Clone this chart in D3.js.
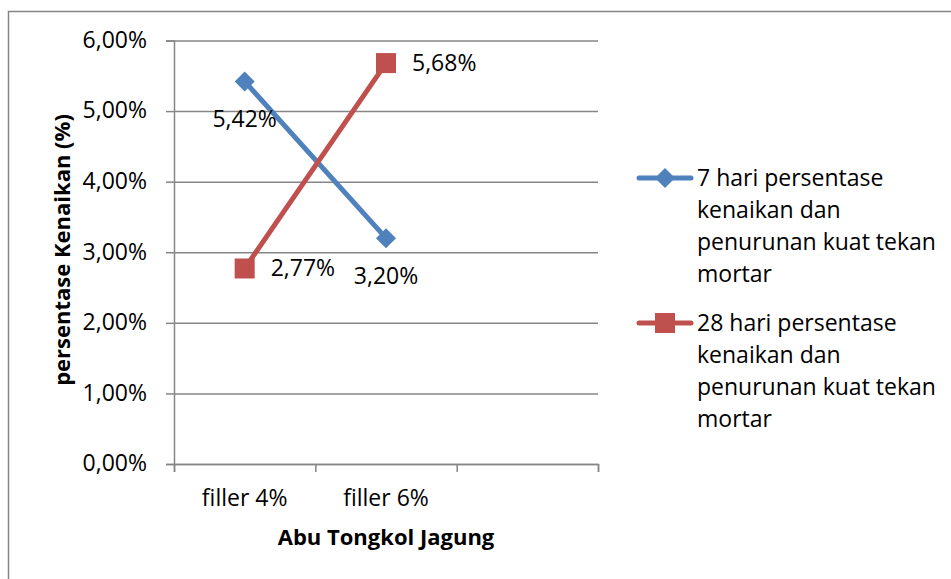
<!DOCTYPE html>
<html>
<head>
<meta charset="utf-8">
<script src="https://cdn.jsdelivr.net/npm/d3@7"></script>
<style>
  body { margin: 0; background: #fff; }
  svg text { font-family: "Open Sans", "Liberation Sans", sans-serif; fill: #000; }
</style>
</head>
<body>
<svg id="chart" width="951" height="579"></svg>
<script>
// data
const categories = ["filler 4%", "filler 6%", ""];
const hari7 = [5.42, 3.20];
const hari28 = [2.77, 5.68];
const yTicks = [0, 1, 2, 3, 4, 5, 6];
const seriesNames = [
  ["7 hari persentase", "kenaikan dan", "penurunan kuat tekan", "mortar"],
  ["28 hari persentase", "kenaikan dan", "penurunan kuat tekan", "mortar"]
];

const svg = d3.select("#chart");
const gridColor = "#868686";
const fontSize = 23;
const titleSize = 22;

// outer chart border (runs off right and bottom)
svg.append("rect")
  .attr("x", 8.5).attr("y", 11.5)
  .attr("width", 1000).attr("height", 1000)
  .attr("fill", "none").attr("stroke", gridColor).attr("stroke-width", 1.5);

const plotLeft = 174, plotRight = 598, plotTop = 40.5, plotBottom = 464;

const x = d3.scaleBand().domain(categories).range([plotLeft, plotRight]).padding(0);
const xIdx = d3.scaleLinear().domain([0, categories.length]).range([plotLeft, plotRight]);
const y = d3.scaleLinear().domain([0, 6]).range([plotBottom, plotTop]);
const cx = d => x(d) + x.bandwidth() / 2;

const fmt = d => d.toFixed(2).replace(".", ",") + "%";

// gridlines
svg.append("g")
  .attr("transform", `translate(${plotLeft},0)`)
  .call(d3.axisLeft(y).tickValues(yTicks).tickSize(-(plotRight - plotLeft)).tickFormat(""))
  .call(g => g.select(".domain").remove())
  .call(g => g.selectAll("line").attr("stroke", gridColor).attr("stroke-width", 1.5));

// y axis
const yAxis = svg.append("g")
  .attr("transform", `translate(${plotLeft},0)`)
  .call(d3.axisLeft(y).tickValues(yTicks).tickSize(8).tickPadding(19).tickFormat(d => fmt(d)));
yAxis.select(".domain").attr("stroke", gridColor).attr("stroke-width", 1.5);
yAxis.selectAll("line").attr("stroke", gridColor).attr("stroke-width", 1.5);
yAxis.selectAll("text").attr("font-size", fontSize).attr("dy", "0.3em");
yAxis.attr("font-family", null);

// x axis
const xAxis = svg.append("g")
  .attr("transform", `translate(0,${plotBottom})`)
  .call(d3.axisBottom(xIdx).tickValues(d3.range(categories.length + 1)).tickSize(8).tickFormat(""));
xAxis.select(".domain").attr("stroke", gridColor).attr("stroke-width", 1.5);
xAxis.selectAll("line").attr("stroke", gridColor).attr("stroke-width", 1.5);

svg.append("g").selectAll("text")
  .data(categories.filter(c => c !== ""))
  .join("text")
  .attr("x", d => cx(d))
  .attr("y", 506)
  .attr("text-anchor", "middle")
  .attr("font-size", fontSize)
  .text(d => d);

// axis titles
svg.append("text")
  .attr("x", 386).attr("y", 545)
  .attr("text-anchor", "middle")
  .attr("font-size", titleSize).attr("font-weight", "bold")
  .text("Abu Tongkol Jagung");

svg.append("text")
  .attr("transform", "translate(70,250) rotate(-90)")
  .attr("text-anchor", "middle")
  .attr("font-size", titleSize).attr("font-weight", "bold")
  .text("persentase Kenaikan (%)");

// series
const series = [
  { values: hari7, color: "#4F81BD", marker: "diamond", labelPos: "below" },
  { values: hari28, color: "#C0504D", marker: "square", labelPos: "right" }
];

const line = d3.line()
  .x((d, i) => cx(categories[i]))
  .y(d => y(d));

function drawMarker(g, type, color) {
  if (type === "diamond") {
    g.append("path").attr("d", "M0,-10L10,0L0,10L-10,0Z").attr("fill", color);
  } else {
    g.append("rect").attr("x", -10).attr("y", -10).attr("width", 20).attr("height", 20).attr("fill", color);
  }
}

series.forEach(s => {
  svg.append("path")
    .datum(s.values)
    .attr("d", line)
    .attr("fill", "none")
    .attr("stroke", s.color)
    .attr("stroke-width", 5)
    .attr("stroke-linecap", "round");

  s.values.forEach((v, i) => {
    const g = svg.append("g").attr("transform", `translate(${cx(categories[i])},${y(v)})`);
    drawMarker(g, s.marker, s.color);
  });

  svg.append("g").selectAll("text")
    .data(s.values)
    .join("text")
    .attr("x", (d, i) => s.labelPos === "right" ? cx(categories[i]) + 26 : cx(categories[i]))
    .attr("y", d => s.labelPos === "right" ? y(d) + 8 : y(d) + 46)
    .attr("text-anchor", s.labelPos === "right" ? "start" : "middle")
    .attr("font-size", fontSize)
    .text(d => fmt(d));
});

// legend
const legendY = [178, 323];
series.forEach((s, k) => {
  const g = svg.append("g").attr("transform", `translate(0,${legendY[k]})`);
  g.append("line")
    .attr("x1", 639).attr("x2", 691)
    .attr("stroke", s.color).attr("stroke-width", 5).attr("stroke-linecap", "round");
  const m = g.append("g").attr("transform", "translate(665,0)");
  drawMarker(m, s.marker, s.color);
  g.append("g").selectAll("text")
    .data(seriesNames[k])
    .join("text")
    .attr("x", 697)
    .attr("y", (d, i) => 8 + i * 32)
    .attr("font-size", fontSize)
    .text(d => d);
});
</script>
</body>
</html>
